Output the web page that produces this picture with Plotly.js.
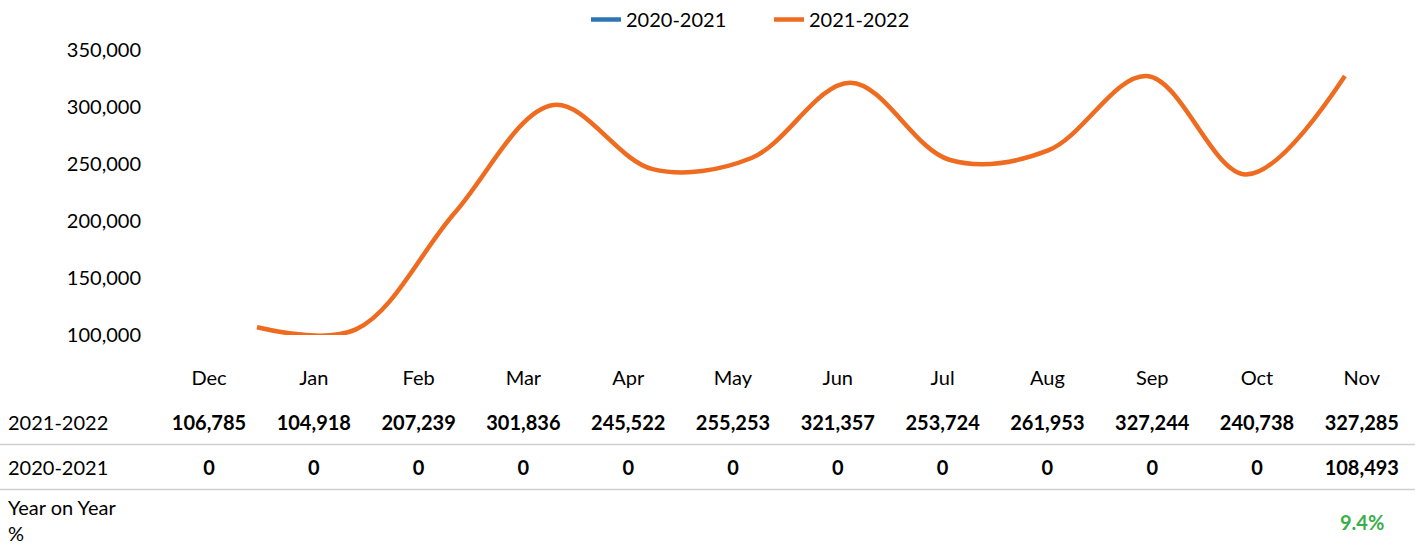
<!DOCTYPE html>
<html><head><meta charset="utf-8">
<script src="https://cdn.plot.ly/plotly-3.0.1.min.js"></script>
<style>html,body{margin:0;padding:0;background:#fff}#chart{width:1422px;height:546px}</style>
</head><body><div id="chart"></div>
<script>
const months = ['Dec','Jan','Feb','Mar','Apr','May','Jun','Jul','Aug','Sep','Oct','Nov'];
const series2122 = [106785,104918,207239,301836,245522,255253,321357,253724,261953,327244,240738,327285];
const series2021 = [0,0,0,0,0,0,0,0,0,0,0,108493];
const yoyLabel = '9.4%';
const rowNames = ['2021-2022','2020-2021','Year on Year<br>%'];
const rowKeys = ['months','r1','r2','yoy'];

const W = 1422, H = 546;
const px = v => v / W, py = v => (H - v) / H;
const FONT = 'Lato, "DejaVu Sans", sans-serif';
const fmt = v => v.toLocaleString('en-US');
const lineLeft = 160, lineRight = 1415, firstPt = 257, step = 98.9;
const dy = 2.5;

const traces = [
  {x: months, y: series2021.map(v => v === 0 ? null : v), name: '2020-2021', type: 'scatter', mode: 'lines',
   line: {color: '#2E75B6', width: 4.5, shape: 'spline', smoothing: 1}, xaxis: 'x', yaxis: 'y'},
  {x: months, y: series2122, name: '2021-2022', type: 'scatter', mode: 'lines',
   line: {color: '#EE6B1F', width: 4.5, shape: 'spline', smoothing: 1}, xaxis: 'x', yaxis: 'y'},
  {x: months, y: months.map(() => 'months'), text: months, type: 'scatter', mode: 'text',
   textfont: {family: FONT, size: 20, color: '#000'}, showlegend: false, hoverinfo: 'skip', xaxis: 'x2', yaxis: 'y2'},
  {x: months, y: months.map(() => 'r1'), text: series2122.map(fmt), type: 'scatter', mode: 'text',
   textfont: {family: FONT, size: 20, color: '#000', weight: 'bold'}, showlegend: false, hoverinfo: 'skip', xaxis: 'x2', yaxis: 'y2'},
  {x: months, y: months.map(() => 'r2'), text: series2021.map(fmt), type: 'scatter', mode: 'text',
   textfont: {family: FONT, size: 20, color: '#000', weight: 'bold'}, showlegend: false, hoverinfo: 'skip', xaxis: 'x2', yaxis: 'y2'}
];

const annotations = [
  {xref: 'paper', yref: 'y2', x: px(6), y: 'r1', yshift: dy, xanchor: 'left', text: rowNames[0], showarrow: false, font: {family: FONT, size: 20, color: '#000'}},
  {xref: 'paper', yref: 'y2', x: px(6), y: 'r2', yshift: dy, xanchor: 'left', text: rowNames[1], showarrow: false, font: {family: FONT, size: 20, color: '#000'}},
  {xref: 'paper', yref: 'y2', x: px(6), y: 'yoy', yshift: -5.5, xanchor: 'left', align: 'left', text: rowNames[2], showarrow: false, font: {family: FONT, size: 20, color: '#000'}},
  {xref: 'x2', yref: 'y2', x: months[months.length - 1], y: 'yoy', yshift: -7.5, text: yoyLabel, showarrow: false, font: {family: FONT, size: 20, color: '#3AAE4A', weight: 'bold'}}
];

const shapes = [1.5, 2.5].map(b => ({type: 'line', xref: 'paper', yref: 'y2', ysizemode: 'pixel', yanchor: b,
  x0: 0, x1: px(1415), y0: dy, y1: dy, line: {color: '#CFCFCF', width: 1.5}}));

const layout = {
  width: W, height: H, margin: {l: 0, r: 0, t: 0, b: 0}, paper_bgcolor: '#fff', plot_bgcolor: 'rgba(0,0,0,0)',
  font: {family: FONT, size: 20, color: '#000'},
  showlegend: true,
  legend: {orientation: 'h', x: px(586), xanchor: 'left', y: 1, yanchor: 'top', entrywidth: 138, entrywidthmode: 'pixels',
    font: {family: FONT, size: 20, color: '#000'}, traceorder: 'normal'},
  xaxis: {type: 'category', domain: [px(lineLeft), px(lineRight)], range: [(lineLeft - firstPt) / step, (lineRight - firstPt) / step],
    showgrid: false, zeroline: false, showline: false, showticklabels: false, ticks: '', fixedrange: true},
  yaxis: {domain: [py(335), py(50)], range: [100000, 350000], tickvals: [100000,150000,200000,250000,300000,350000], tickformat: ',',
    showgrid: false, zeroline: false, showline: false, ticks: '', ticklabelstandoff: 18, tickfont: {family: FONT, size: 20, color: '#000'}},
  xaxis2: {type: 'category', categoryarray: months, domain: [px(156.6), px(1414.2)], range: [-0.5, 11.5], anchor: 'y2',
    showgrid: false, zeroline: false, showline: false, showticklabels: false, ticks: ''},
  yaxis2: {type: 'category', categoryarray: rowKeys, domain: [py(534.5 + dy), py(354.5 + dy)], range: [3.5, -0.5], anchor: 'x2',
    showgrid: false, zeroline: false, showline: false, showticklabels: false, ticks: ''},
  annotations: annotations, shapes: shapes
};

Plotly.newPlot('chart', traces, layout, {displayModeBar: false, staticPlot: true});
</script></body></html>
